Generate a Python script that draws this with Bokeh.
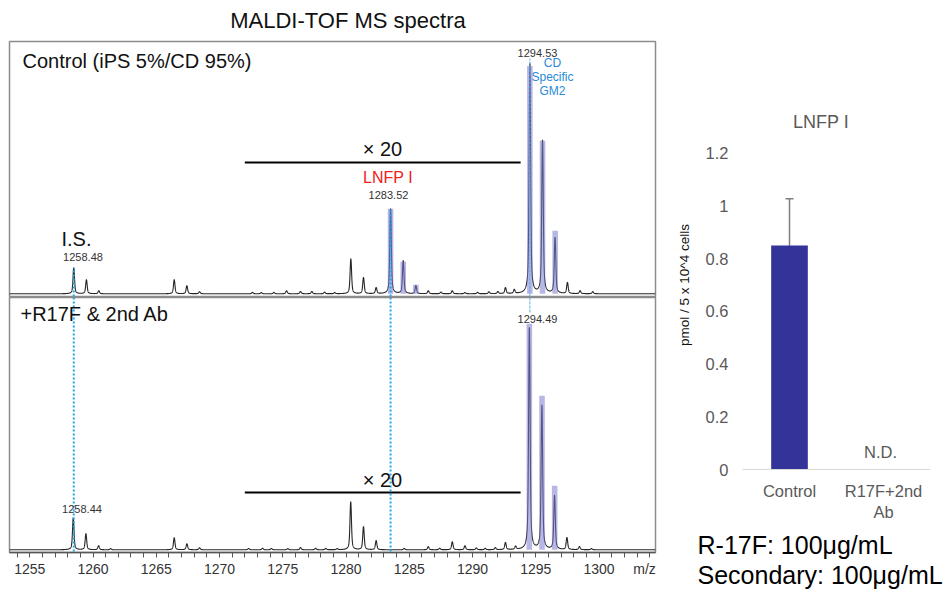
import numpy as np
from bokeh.plotting import figure
from bokeh.models import (ColumnDataSource, Label, Range1d, FactorRange, Whisker,
                          FixedTicker, TeeHead, Span, Title)
from bokeh.layouts import row, column
from bokeh.embed import file_html
from bokeh.resources import INLINE

# ------------------------------------------------------------------ data
# relative intensities (% of the main 1294.5 peak of each spectrum);
# peaks inside the x20 window are given as displayed (already x20)
TOP_MZ = [1258.48, 1259.48, 1260.46, 1266.42, 1267.42, 1268.42,
          1272.6, 1273.3, 1274.3, 1275.3, 1276.4, 1277.3, 1278.3, 1279.1,
          1280.38, 1281.38, 1282.38, 1283.52, 1284.52, 1285.52, 1286.5,
          1287.5, 1288.4, 1289.4, 1290.4, 1291.3, 1292.0, 1292.6, 1293.3,
          1294.53, 1295.53, 1296.52, 1297.50, 1298.5, 1299.5]
TOP_INT = [11.3, 6.1, 1.3, 6.1, 3.5, 0.9,
           0.6, 0.5, 0.6, 1.3, 1.0, 1.0, 0.7, 0.5,
           15.2, 7.0, 2.6, 37.0, 14.3, 3.5, 1.3,
           0.7, 1.3, 0.5, 0.6, 0.8, 0.9, 2.6, 1.7,
           100.0, 66.5, 24.3, 4.8, 1.3, 0.9]

BOT_MZ = [1258.44, 1259.44, 1260.44, 1261.40, 1266.42, 1267.42, 1268.42,
          1272.3, 1273.4, 1274.1, 1275.4, 1276.4, 1277.6, 1278.4, 1279.3,
          1280.37, 1281.38, 1282.38, 1284.6, 1286.5, 1287.4, 1288.4, 1289.4,
          1290.3, 1291.0, 1291.8, 1292.6, 1293.4,
          1294.49, 1295.48, 1296.48, 1297.46, 1298.45, 1299.4]
BOT_INT = [14.4, 7.2, 1.8, 0.5, 5.4, 2.7, 0.9,
           0.6, 0.7, 0.6, 0.5, 1.0, 0.7, 0.6, 0.5,
           21.6, 10.4, 4.1, 0.6, 1.4, 0.7, 3.6, 1.8,
           0.8, 0.6, 0.9, 3.2, 1.4,
           100.0, 64.9, 24.3, 5.4, 1.4, 0.5]

# highlighted (theoretical isotope) boxes
TOP_BOX_MZ = [1283.52, 1284.52, 1285.52, 1294.53, 1295.53, 1296.53]
TOP_BOX_H = [37.0, 13.9, 3.9, 99.0, 66.5, 27.4]
BOT_BOX_MZ = [1294.49, 1295.49, 1296.49]
BOT_BOX_H = [101.8, 69.4, 28.8]

IS_MZ = 1258.48          # internal standard
LNFP_MZ = 1283.52        # LNFP I
GM2_MZ = 1294.53         # CD specific GM2
BOT_IS_MZ = 1258.44
BOT_GM2_MZ = 1294.49
ZOOM_WINDOW = (1272.0, 1293.8)   # x20 region

X_TICKS = [1255, 1260, 1265, 1270, 1275, 1280, 1285, 1290, 1295, 1300]
X_TICK_LABELS = ["1255", "1260", "1265", "1270", "1275", "1280", "1285", "1290", "1295", "1300"]
X_MINOR = list(range(1254, 1305))

# bar chart
CATEGORIES = ["Control", "R17F+2nd\nAb"]
MEANS = [0.85, float("nan")]
ERRS = [0.178, float("nan")]
Y_TICKS = [0, 0.2, 0.4, 0.6, 0.8, 1, 1.2]
Y_TICK_LABELS = ["0", "0.2", "0.4", "0.6", "0.8", "1", "1.2"]
CONDITIONS = ["R-17F: 100\u03bcg/mL", "Secondary: 100\u03bcg/mL"]

FONT = "Liberation Sans"

# ------------------------------------------------------------------ geometry helpers
MZ_MIN, MZ_MAX = 1253.40, 1304.46
FRAME_L, FRAME_W = 9, 646


def px_mz(px):
    return MZ_MIN + (px - FRAME_L) * (MZ_MAX - MZ_MIN) / FRAME_W


def ytop(py):
    return (293.3 - py) / 2.3


def ybot(py):
    return (549.3 - py) / 2.22


def bx(px):
    return (px - 742) / 94.0


def by(py):
    return (470 - py) * 1.2 / 317.0


grid = np.arange(MZ_MIN, MZ_MAX, 0.005)


def spectrum(mz, inten):
    y = np.zeros_like(grid)
    for c, h in zip(mz, inten):
        d = grid - c
        y += h * (0.6 * np.exp(-0.5 * (d / 0.055) ** 2) + 0.4 / (1 + (d / 0.09) ** 2))
    return y


def lab(p, x, y, text, size, color="#111111", align="center", baseline="middle"):
    p.add_layout(Label(x=x, y=y, text=text, text_font=FONT, text_font_size=size,
                       text_color=color, text_align=align, text_baseline=baseline))


CYAN = "#1ea5ec"
LIGHTBLUE = "#5aaeea"
BOX = "#7b7bd0"
LINE = "#262626"

# ------------------------------------------------------------------ title strip (page y 0..40)
pt = figure(width=665, height=40, title=None,
            x_range=Range1d(MZ_MIN, MZ_MAX), y_range=Range1d(40, 0),
            x_axis_type=None, y_axis_type=None,
            min_border_left=9, min_border_right=10, min_border_top=0, min_border_bottom=0,
            output_backend="svg", toolbar_location=None)
pt.outline_line_color = None
lab(pt, px_mz(347.5), 20, "MALDI-TOF MS spectra", "22px")

# ------------------------------------------------------------------ top spectrum (page y 40..297)
p1 = figure(width=665, height=257, title=None,
            x_range=Range1d(MZ_MIN, MZ_MAX), y_range=Range1d(ytop(296), ytop(41)),
            x_axis_type=None, y_axis_type=None,
            min_border_left=9, min_border_right=10, min_border_top=1, min_border_bottom=1,
            output_backend="svg", toolbar_location=None)
p1.outline_line_color = "#8c8c8c"
p1.outline_line_width = 1.5

p1.line(grid, spectrum(TOP_MZ, TOP_INT), line_color=LINE, line_width=1.1)
tb = np.array(TOP_BOX_MZ)
p1.quad(left=tb - 0.22, right=tb + 0.22, bottom=0, top=TOP_BOX_H,
        fill_color=BOX, fill_alpha=0.55, line_color=None)
p1.segment(x0=[IS_MZ, LNFP_MZ], y0=[ytop(296)] * 2, x1=[IS_MZ, LNFP_MZ],
           y1=[TOP_INT[0], TOP_BOX_H[0]], line_color=CYAN, line_width=2, line_dash="2 2")
p1.segment(x0=[GM2_MZ], y0=[ytop(296)], x1=[GM2_MZ], y1=[ytop(58)],
           line_color=LIGHTBLUE, line_width=1, line_dash="3 1")
p1.segment(x0=[ZOOM_WINDOW[0]], y0=[ytop(162)], x1=[ZOOM_WINDOW[1]], y1=[ytop(162)],
           line_color="#000000", line_width=2)

lab(p1, px_mz(22), ytop(60), "Control (iPS 5%/CD 95%)", "20px", align="left")
lab(p1, px_mz(76), ytop(238), "I.S.", "20px")
lab(p1, px_mz(82.5), ytop(256), f"{IS_MZ:.2f}", "11px", color="#333333")
lab(p1, px_mz(382), ytop(148), "\u00d7 20", "20px")
lab(p1, px_mz(387.5), ytop(177), "LNFP I", "16px", color="#ee2020")
lab(p1, px_mz(388), ytop(194), f"{LNFP_MZ:.2f}", "11px", color="#333333")
lab(p1, px_mz(537), ytop(52), f"{GM2_MZ:.2f}", "11px", color="#333333")
for t, yy in zip(["CD", "Specific", "GM2"], [62, 76, 90]):
    lab(p1, px_mz(552), ytop(yy), t, "12px", color="#2a8ad6")

# ------------------------------------------------------------------ bottom spectrum (page y 297..580)
p2 = figure(width=665, height=283, title=None,
            x_range=Range1d(MZ_MIN, MZ_MAX), y_range=Range1d(ybot(552), ybot(297)),
            y_axis_type=None,
            min_border_left=9, min_border_right=10, min_border_top=0, min_border_bottom=28,
            output_backend="svg", toolbar_location=None)
p2.outline_line_color = "#8c8c8c"
p2.outline_line_width = 1.5
p2.grid.visible = False

MZ_LABEL_POS = px_mz(644)
ax = p2.xaxis[0]
ax.ticker = FixedTicker(ticks=X_TICKS + [MZ_LABEL_POS], minor_ticks=X_MINOR)
ax.major_label_overrides = dict(zip(X_TICKS + [MZ_LABEL_POS], X_TICK_LABELS + ["m/z"]))
ax.axis_line_color = "#555555"
ax.axis_line_width = 1.5
ax.major_tick_in = 0
ax.major_tick_out = 5
ax.minor_tick_in = 0
ax.minor_tick_out = 5
ax.major_tick_line_color = None
ax.minor_tick_line_color = "#555555"
ax.major_label_text_font = FONT
ax.major_label_text_font_size = "14px"
ax.major_label_text_color = "#333333"
ax.major_label_standoff = 3

p2.line(grid, spectrum(BOT_MZ, BOT_INT), line_color=LINE, line_width=1.1)
bb = np.array(BOT_BOX_MZ)
p2.quad(left=bb - 0.22, right=bb + 0.22, bottom=0, top=BOT_BOX_H,
        fill_color=BOX, fill_alpha=0.55, line_color=None)
for loc in [IS_MZ, LNFP_MZ]:
    p2.add_layout(Span(location=loc, dimension="height", line_color=CYAN,
                       line_width=2, line_dash="2 2"))
p2.segment(x0=[GM2_MZ], y0=[ybot(297)], x1=[GM2_MZ], y1=[ybot(313)],
           line_color=LIGHTBLUE, line_width=1, line_dash="3 1")
p2.segment(x0=[ZOOM_WINDOW[0]], y0=[ybot(492)], x1=[ZOOM_WINDOW[1]], y1=[ybot(492)],
           line_color="#000000", line_width=2)

lab(p2, px_mz(20), ybot(313), "+R17F & 2nd Ab", "20px", align="left")
lab(p2, px_mz(81.5), ybot(508), f"{BOT_IS_MZ:.2f}", "11px", color="#333333")
lab(p2, px_mz(382), ybot(479), "\u00d7 20", "20px")
lab(p2, px_mz(537), ybot(318), f"{BOT_GM2_MZ:.2f}", "11px", color="#333333")

# ------------------------------------------------------------------ bar chart (page x 665..946, y 0..594)
means = np.array(MEANS)
errs = np.array(ERRS)
src = ColumnDataSource(dict(cat=CATEGORIES, mean=means, upper=means + errs, lower=means - errs))

p3 = figure(width=281, height=594, title=None,
            x_range=FactorRange(*CATEGORIES), y_range=Range1d(0, by(100)),
            min_border_left=77, min_border_right=16, min_border_top=100, min_border_bottom=124,
            output_backend="svg", toolbar_location=None)
p3.outline_line_color = None
p3.grid.visible = False
p3.vbar(x="cat", top="mean", width=0.39, source=src, fill_color="#333399", line_color=None)
p3.add_layout(Whisker(base="cat", upper="upper", lower="lower", source=src,
                      line_color="#7f7f7f", line_width=1.5,
                      upper_head=TeeHead(size=8, line_color="#7f7f7f", line_width=1.5),
                      lower_head=TeeHead(size=8, line_color="#7f7f7f", line_width=1.5)))

ya = p3.yaxis[0]
ya.ticker = FixedTicker(ticks=Y_TICKS)
ya.major_label_overrides = dict(zip(Y_TICKS, Y_TICK_LABELS))
ya.axis_line_color = None
ya.major_tick_line_color = None
ya.minor_tick_line_color = None
ya.major_tick_out = 0
ya.major_tick_in = 0
ya.minor_tick_out = 0
ya.minor_tick_in = 0
ya.major_label_text_font = FONT
ya.major_label_text_font_size = "16.5px"
ya.major_label_text_color = "#595959"
ya.major_label_standoff = 14
ya.axis_label = "pmol / 5 x 10^4 cells"
ya.axis_label_text_font = FONT
ya.axis_label_text_font_size = "13.5px"
ya.axis_label_text_font_style = "normal"
ya.axis_label_text_color = "#111111"
ya.axis_label_standoff = 11

xa = p3.xaxis[0]
xa.axis_line_color = "#d9d9d9"
xa.axis_line_width = 1
xa.major_tick_line_color = None
xa.minor_tick_line_color = None
xa.major_tick_out = 0
xa.major_tick_in = 0
xa.major_label_text_font = FONT
xa.major_label_text_font_size = "16.5px"
xa.major_label_text_color = "#595959"
xa.major_label_standoff = 12

lab(p3, bx(820.5), by(122), "LNFP I", "18px", color="#595959")
lab(p3, bx(880), by(452), "N.D.", "16.5px", color="#595959")

p3.add_layout(Title(text="\n".join(CONDITIONS), align="left", offset=-45,
                    text_font=FONT, text_font_size="25px", text_font_style="normal",
                    text_color="#000000", text_line_height=1.08, standoff=10), "below")

layout = row(column(pt, p1, p2, spacing=0), p3, spacing=0)
open("out.html", "w").write(file_html(layout, INLINE))
